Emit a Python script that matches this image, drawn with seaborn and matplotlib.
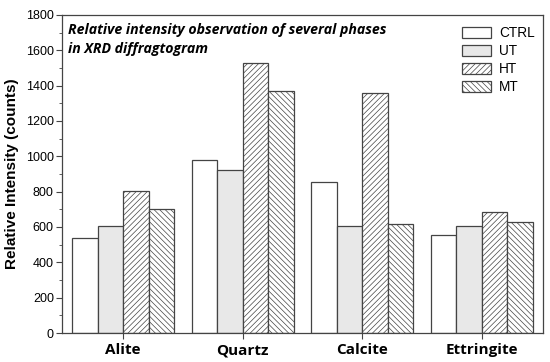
import pandas as pd
import numpy as np
import matplotlib
matplotlib.use("Agg")
import matplotlib.pyplot as plt
import seaborn as sns
from matplotlib.ticker import MultipleLocator

phases = ["Alite", "Quartz", "Calcite", "Ettringite"]
treatments = ["CTRL", "UT", "HT", "MT"]
ctrl = [538, 981, 855, 553]
ut = [605, 921, 605, 605]
ht = [802, 1530, 1358, 686]
mt = [703, 1371, 615, 626]

df = pd.DataFrame({
    "Phase": phases * 4,
    "Treatment": np.repeat(treatments, 4),
    "Intensity": ctrl + ut + ht + mt,
})

sns.set_style("ticks")
plt.rcParams["font.family"] = ["Liberation Sans", "DejaVu Sans"]
plt.rcParams["hatch.linewidth"] = 0.5
plt.rcParams["text.color"] = "black"
plt.rcParams["axes.labelcolor"] = "black"
plt.rcParams["xtick.labelcolor"] = "black"
plt.rcParams["ytick.labelcolor"] = "black"

fig, ax = plt.subplots(figsize=(5.5, 3.62), dpi=100)
sns.barplot(data=df, x="Phase", y="Intensity", hue="Treatment",
            palette=["white", "#e8e8e8", "white", "white"],
            width=0.85, edgecolor="#444444", linewidth=0.9,
            saturation=1, legend=False, ax=ax)

# hatches per treatment
hatches = ["", "", "//////", "\\\\\\\\\\\\"]
for cont, h in zip(ax.containers, hatches):
    for bar in cont:
        bar.set_hatch(h)
        bar.set_edgecolor("#444444")

ax.legend(ax.containers, treatments, loc="upper right", frameon=False,
          fontsize=9.8, handlelength=2.2, handleheight=0.9,
          labelspacing=0.3, borderaxespad=0.2, handletextpad=0.55,
          bbox_to_anchor=(1.0, 0.99))

ax.set_xlim(-0.51, 3.51)
ax.set_ylim(0, 1800)
ax.yaxis.set_major_locator(MultipleLocator(200))
ax.yaxis.set_minor_locator(MultipleLocator(100))
ax.tick_params(axis="y", which="major", length=4, labelsize=9, color="#444444",
               pad=2)
ax.tick_params(axis="y", which="minor", length=2.5, color="#444444")
ax.tick_params(axis="x", length=4, color="#444444")
ax.set_xticks(range(len(phases)))
ax.set_xticklabels(phases, fontfamily="Open Sans", fontweight="bold", fontsize=11)
for s in ax.spines.values():
    s.set_visible(True)
    s.set_color("#444444")
    s.set_linewidth(0.9)

ax.set_xlabel("")
ax.set_ylabel("Relative Intensity (counts)", fontsize=11, fontweight="bold",
              labelpad=5)
ax.text(0.012, 0.975, "Relative intensity observation of several phases\nin XRD diffragtogram",
        transform=ax.transAxes, ha="left", va="top", fontsize=10.2,
        fontfamily="Open Sans", fontweight="bold", fontstyle="italic",
        linespacing=1.45)

fig.subplots_adjust(left=0.113, right=0.987, top=0.959, bottom=0.08)
fig.savefig("out.png", dpi=100)
